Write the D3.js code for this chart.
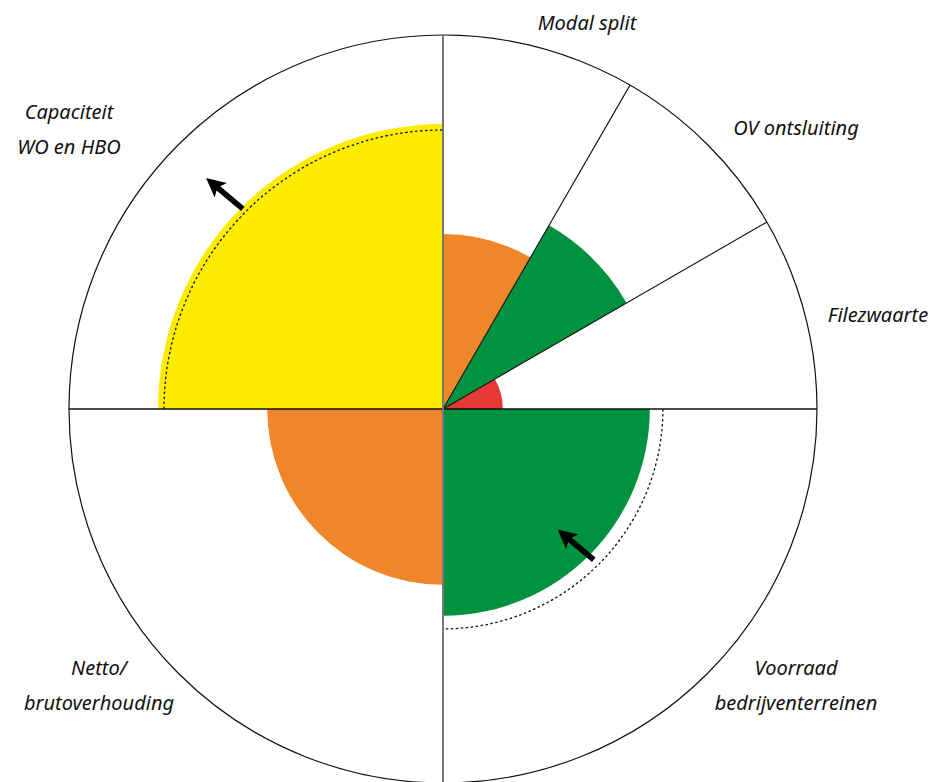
<!DOCTYPE html>
<html>
<head>
<meta charset="utf-8">
<script src="https://cdn.jsdelivr.net/npm/d3@7"></script>
<style>
  html, body { margin: 0; padding: 0; background: #fff; }
  svg { display: block; }
  text { font-family: "Noto Sans", "Open Sans", sans-serif; font-style: italic; font-size: 20px; fill: #111; }
</style>
</head>
<body>
<svg id="chart" width="938" height="782"></svg>
<script>
// ---- data ----
const categories = ["Modal split", "OV ontsluiting", "Filezwaarte",
                    "Voorraad bedrijventerreinen", "Netto/brutoverhouding", "Capaciteit WO en HBO"];
const spans      = [1, 1, 1, 3, 3, 3];            // width of each sector in twelfths of the circle
const values     = [46.8, 56.7, 16.0, 55.3, 47.0, 76.2];
const targets    = [null, null, null, 58.8, null, 74.6];   // dotted reference arcs
const trendFrom  = [null, null, null, 57.0, null, 75.7];   // arrow start (radial value)
const trendTo    = [null, null, null, 44.4, null, 88.5];   // arrow end (radial value)
const colors     = ["#EF8629", "#00923F", "#E53935", "#00923F", "#EF8629", "#FDEB00"];
const labelLines = [["Modal split"], ["OV ontsluiting"], ["Filezwaarte"],
                    ["Voorraad", "bedrijventerreinen"], ["Netto/", "brutoverhouding"], ["Capaciteit", "WO en HBO"]];

// ---- layout ----
const W = 938, H = 782;
const cx = 443, cy = 409, R = 374;
const labelPos = [
  {x: 587, y: 30}, {x: 796, y: 135}, {x: 878, y: 322},
  {x: 796, y: 675}, {x: 99, y: 675}, {x: 69, y: 119}
];
const lineGap = 35;

const svg = d3.select("#chart");
const g = svg.append("g").attr("transform", `translate(${cx},${cy})`);

const r = d3.scaleLinear().domain([0, 100]).range([0, R]);

// sector angles
const total = d3.sum(spans);
let acc = 0;
const sectors = categories.map((c, i) => {
  const s = acc / total * 2 * Math.PI;
  acc += spans[i];
  const e = acc / total * 2 * Math.PI;
  return {cat: c, start: s, end: e, value: values[i], target: targets[i],
          from: trendFrom[i], to: trendTo[i], color: colors[i], i};
});

const arc = d3.arc();

// filled sectors
g.selectAll("path.sector").data(sectors).join("path")
  .attr("class", "sector")
  .attr("fill", d => d.color)
  .attr("d", d => arc({innerRadius: 0, outerRadius: r(d.value), startAngle: d.start, endAngle: d.end}));

// dotted target arcs
g.selectAll("path.target").data(sectors.filter(d => d.target != null)).join("path")
  .attr("class", "target")
  .attr("fill", "none")
  .attr("stroke", "#111")
  .attr("stroke-width", 1.3)
  .attr("stroke-dasharray", "2.5,2.5")
  .attr("d", d => {
    const p = d3.path();
    p.arc(0, 0, r(d.target), d.start - Math.PI / 2, d.end - Math.PI / 2);
    return p.toString();
  });

// outer circle
g.append("circle").attr("r", r(100)).attr("fill", "none").attr("stroke", "#111").attr("stroke-width", 1.2);

// sector boundary lines (small sectors)
const boundaries = Array.from(new Set(sectors.map(d => d.start)));
boundaries.forEach(a => {
  const isAxis = Math.abs((a / (Math.PI / 2)) - Math.round(a / (Math.PI / 2))) < 1e-6;
  if (isAxis) return;
  g.append("line")
    .attr("x1", 0).attr("y1", 0)
    .attr("x2", r(100) * Math.sin(a)).attr("y2", -r(100) * Math.cos(a))
    .attr("stroke", "#111").attr("stroke-width", 1.1);
});
// main axes
g.append("line").attr("x1", -r(100)).attr("x2", r(100)).attr("y1", 0).attr("y2", 0)
  .attr("stroke", "#111").attr("stroke-width", 1.5);
g.append("line").attr("x1", 0).attr("x2", 0).attr("y1", -r(100)).attr("y2", r(100))
  .attr("stroke", "#777").attr("stroke-width", 2);

// trend arrows (placed on the sector's middle direction, tilted north-west / south-east)
const arrowDir = -140 * Math.PI / 180;
sectors.filter(d => d.from != null).forEach(d => {
  const mid = (d.start + d.end) / 2;
  const x0 = r(d.from) * Math.sin(mid), y0 = -r(d.from) * Math.cos(mid);
  const len = r(d.to) - r(d.from);
  const rx = Math.sin(mid), ry = -Math.cos(mid);
  const dirx = Math.cos(arrowDir), diry = Math.sin(arrowDir);
  const sgn = (rx * dirx + ry * diry) * len >= 0 ? 1 : -1;
  const ux = dirx * sgn, uy = diry * sgn;
  const L = Math.abs(len);
  const x1 = x0 + ux * L, y1 = y0 + uy * L;
  const headL = 19, headW = 9.5, shaftW = 2.8;
  const px = -uy, py = ux;
  const bx = x1 - ux * headL, by = y1 - uy * headL;
  const pts = [
    [x0 + px * shaftW, y0 + py * shaftW],
    [bx + ux * 3 + px * shaftW, by + uy * 3 + py * shaftW],
    [bx + px * headW, by + py * headW],
    [x1, y1],
    [bx - px * headW, by - py * headW],
    [bx + ux * 3 - px * shaftW, by + uy * 3 - py * shaftW],
    [x0 - px * shaftW, y0 - py * shaftW]
  ];
  g.append("path").attr("d", d3.line()(pts) + "Z").attr("fill", "#000");
});

// labels
sectors.forEach((d, i) => {
  const t = svg.append("text")
    .attr("x", labelPos[i].x).attr("y", labelPos[i].y)
    .attr("text-anchor", "middle");
  labelLines[i].forEach((ln, k) => {
    t.append("tspan").attr("x", labelPos[i].x).attr("y", labelPos[i].y + k * lineGap).text(ln);
  });
});
</script>
</body>
</html>
